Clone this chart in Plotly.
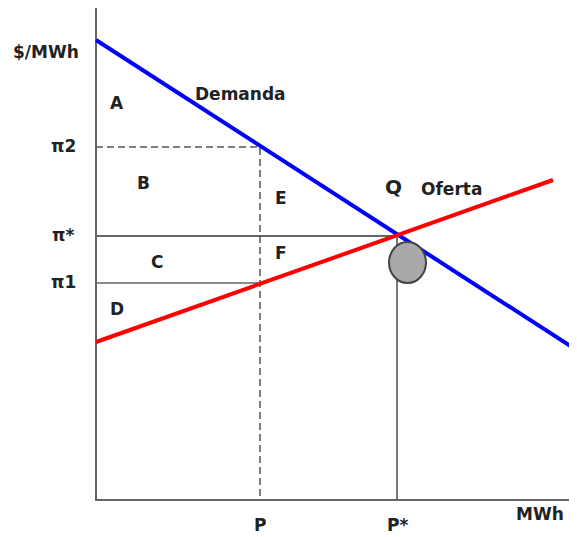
import plotly.graph_objects as go

# Data (quantity units, price units)
demand_x = [0, 476]
demand_y = [460, 153]
supply_x = [0, 457]
supply_y = [158, 320]
price_levels = {"pi2": 353, "pistar": 264, "pi1": 217}
qty_levels = {"P": 164, "Pstar": 301}
price_labels = ["π2", "π*", "π1"]
qty_labels = ["P", "P*"]
area_labels = ["A", "B", "C", "D", "E", "F"]
area_x = [21, 47, 61, 21, 185, 185]
area_y = [397, 317, 238, 191, 302, 247]

pi2, pis, pi1 = price_levels["pi2"], price_levels["pistar"], price_levels["pi1"]
P, Ps = qty_levels["P"], qty_levels["Pstar"]

FONT = "DejaVu Sans, Liberation Sans, Arial, sans-serif"
TXT = "#222222"

fig = go.Figure()

# reference lines
fig.add_trace(go.Scatter(x=[0, P, P], y=[pi2, pi2, 0], mode="lines",
                         line=dict(color="#555555", width=1.5, dash="7px,4px"), hoverinfo="skip"))
fig.add_trace(go.Scatter(x=[0, Ps], y=[pis, pis], mode="lines",
                         line=dict(color="#333333", width=1.5), hoverinfo="skip"))
fig.add_trace(go.Scatter(x=[0, P], y=[pi1, pi1], mode="lines",
                         line=dict(color="#666666", width=1.5), hoverinfo="skip"))
fig.add_trace(go.Scatter(x=[Ps, Ps], y=[pis, 0], mode="lines",
                         line=dict(color="#777777", width=2), hoverinfo="skip"))

# axes
fig.add_trace(go.Scatter(x=[0, 0, 481], y=[493, 0, 0], mode="lines",
                         line=dict(color="#666666", width=2), hoverinfo="skip"))

# curves
fig.add_trace(go.Scatter(x=demand_x, y=demand_y, mode="lines",
                         line=dict(color="#0000ff", width=4), hoverinfo="skip"))
fig.add_trace(go.Scatter(x=supply_x, y=supply_y, mode="lines",
                         line=dict(color="#ff0000", width=4), hoverinfo="skip"))

# circle marker near equilibrium
fig.add_shape(type="circle", xref="x", yref="y", x0=293, x1=330, y0=217, y1=258,
              fillcolor="#a9a9a9", line=dict(color="#444444", width=2))

def txt(x, y, s, size=17):
    fig.add_annotation(x=x, y=y, text=s, showarrow=False, xref="x", yref="y",
                       font=dict(family=FONT, size=size, color=TXT), xanchor="center", yanchor="middle")

for s, x, y in zip(area_labels, area_x, area_y):
    txt(x, y, "<b>%s</b>" % s)

txt(-50, 448, "<b>$/MWh</b>")
txt(144, 406, "<b>Demanda</b>")
txt(297, 313, "<b>Q</b>", 20)
txt(355, 311, "<b>Oferta</b>")
for s, y in zip(price_labels, [pi2, pis, pi1]):
    txt(-33, y + 1, "<b>%s</b>" % s, 17)
for s, x in zip(qty_labels, [P, Ps]):
    txt(x, -25, "<b>%s</b>" % s)
txt(444, -14, "<b>MWh</b>")

# page body has an 8px margin: figure is 569x529 so it ends at the window edge
fig.update_layout(
    width=569, height=529, margin=dict(l=0, r=0, t=0, b=0),
    paper_bgcolor="white", plot_bgcolor="white", showlegend=False,
    xaxis=dict(range=[-88, 481], visible=False, fixedrange=True),
    yaxis=dict(range=[-37, 492], visible=False, fixedrange=True),
)

fig.write_html("out.html")
